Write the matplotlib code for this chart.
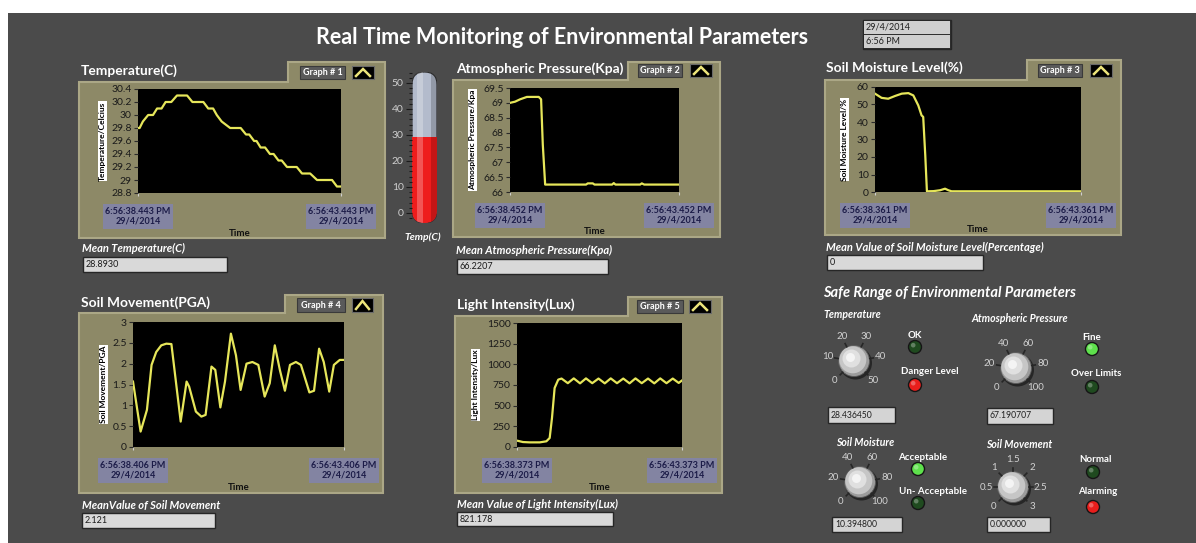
import numpy as np
import matplotlib
matplotlib.use('Agg')
import matplotlib.pyplot as plt
from matplotlib.patches import Rectangle, Circle, FancyBboxPatch, Polygon
from matplotlib.ticker import MultipleLocator, AutoMinorLocator, FuncFormatter

plt.rcParams['font.family'] = ['Lato', 'DejaVu Sans']

W, H = 1196, 543

# ---------------- values ----------------
main_title = 'Real Time Monitoring of Environmental Parameters'
clock_text = ['29/4/2014', '6:56 PM']

# time in seconds after the first sample of each graph
temp_t = [0, 0.04, 0.12, 0.25, 0.37, 0.47, 0.58, 0.68, 0.82, 0.96, 1.21, 1.34, 1.61,
          1.73, 1.85, 1.94, 2.06, 2.27, 2.53, 2.66, 2.74, 2.86, 2.92, 3.02, 3.13,
          3.25, 3.34, 3.46, 3.54, 3.67, 3.91, 4.04, 4.24, 4.41, 4.78, 4.90, 5.0]
temp_v = [29.8, 29.8, 29.9, 30.0, 30.0, 30.1, 30.1, 30.2, 30.2, 30.3, 30.3, 30.2, 30.2,
          30.1, 30.1, 30.0, 29.9, 29.8, 29.8, 29.7, 29.7, 29.6, 29.6, 29.5, 29.5,
          29.4, 29.4, 29.3, 29.3, 29.2, 29.2, 29.1, 29.1, 29.0, 29.0, 28.9, 28.9]

press_t = [0, 0.15, 0.3, 0.5, 0.85, 0.92, 0.97, 1.04, 2.25, 2.3, 2.45, 2.5, 3.02,
           3.07, 3.12, 3.85, 3.9, 3.97, 5.0]
press_v = [69.0, 69.04, 69.12, 69.2, 69.2, 69.12, 67.6, 66.25, 66.25, 66.29, 66.29,
           66.25, 66.25, 66.3, 66.25, 66.25, 66.29, 66.25, 66.25]

moist_t = [0, 0.16, 0.32, 0.49, 0.65, 0.81, 0.93, 1.05, 1.13, 1.17, 1.22, 1.26, 1.42,
           1.58, 1.7, 1.78, 1.86, 5.0]
moist_v = [56.2, 53.8, 53.3, 54.9, 56.2, 56.5, 55.2, 49.5, 43.8, 42.9, 21.0, 0.4, 0.5,
           1.0, 1.9, 1.0, 0.4, 0.4]

move_t = [0, 0.18, 0.33, 0.44, 0.55, 0.67, 0.79, 0.91, 1.13, 1.27, 1.33, 1.49, 1.62,
          1.72, 1.86, 1.95, 2.07, 2.18, 2.32, 2.44, 2.55, 2.69, 2.83, 2.97, 3.12,
          3.24, 3.36, 3.48, 3.60, 3.72, 3.86, 3.98, 4.18, 4.29, 4.41, 4.52, 4.65,
          4.76, 4.90, 5.0]
move_v = [1.57, 0.37, 0.89, 1.97, 2.28, 2.44, 2.48, 2.47, 0.61, 1.57, 1.45, 0.85, 0.73,
          0.77, 1.93, 1.85, 0.95, 1.57, 2.72, 2.2, 1.37, 2.0, 2.04, 1.97, 1.21,
          1.53, 2.44, 1.85, 1.35, 1.97, 2.04, 1.97, 1.31, 1.35, 2.36, 2.04, 1.33,
          1.97, 2.09, 2.09]

light_t = [0, 0.18, 0.38, 0.69, 0.89, 0.99, 1.06, 1.14, 1.25, 1.35, 1.54, 1.72, 1.91,
           2.09, 2.28, 2.47, 2.66, 2.84, 3.03, 3.22, 3.41, 3.59, 3.78, 3.97, 4.16,
           4.34, 4.53, 4.72, 4.90, 5.0]
light_v = [77, 60, 56, 56, 69, 109, 351, 714, 815, 828, 772, 830, 770,
           830, 772, 828, 770, 830, 772, 828, 770, 830, 772, 828, 770,
           830, 772, 828, 775, 805]

temp_x = ['6:56:38.443 PM\n29/4/2014', '6:56:43.443 PM\n29/4/2014']
press_x = ['6:56:38.452 PM\n29/4/2014', '6:56:43.452 PM\n29/4/2014']
moist_x = ['6:56:38.361 PM\n29/4/2014', '6:56:43.361 PM\n29/4/2014']
move_x = ['6:56:38.406 PM\n29/4/2014', '6:56:43.406 PM\n29/4/2014']
light_x = ['6:56:38.373 PM\n29/4/2014', '6:56:43.373 PM\n29/4/2014']

mean_values = ['28.8930', '66.2207', '0', '2.121', '821.178']
thermo_value = 29.2

knob_names = ['Temperature', 'Atmospheric Pressure', 'Soil Moisture', 'Soil Movement']
knob_scales = [[0, 10, 20, 30, 40, 50], [0, 20, 40, 60, 80, 100],
               [0, 20, 40, 60, 80, 100], [0, 0.5, 1, 1.5, 2, 2.5, 3]]
knob_readouts = [28.436450, 67.190707, 10.394800, 0.000000]
led_labels = [['OK', 'Danger Level'], ['Fine', 'Over Limits'],
              ['Acceptable', 'Un- Acceptable'], ['Normal', 'Alarming']]
led_states = [['off', 'red'], ['green', 'off'], ['green', 'off'], ['off', 'red']]

# ---------------- styling ----------------
BG = '#4b4b4b'
KHAKI = '#8d8967'
LINE = '#e6e65a'
LED = {'off': '#1f4a1f', 'green': '#5ee04c', 'red': '#e81e1c'}

fig = plt.figure(figsize=(W / 100, H / 100), dpi=100, facecolor='white')
bg = fig.add_axes([0, 0, 1, 1])
bg.set_xlim(0, W)
bg.set_ylim(H, 0)
bg.axis('off')
bg.add_patch(Rectangle((8, 13), W, H, fc=BG, ec='none'))


def pax(x0, y0, x1, y1):
    return fig.add_axes([x0 / W, 1 - y1 / H, (x1 - x0) / W, (y1 - y0) / H])


def box(x0, y0, x1, y1, fc, ec='#262626', lw=1.0):
    bg.add_patch(Rectangle((x0, y0), x1 - x0, y1 - y0, fc=fc, ec=ec, lw=lw))


# header
bg.text(562, 38, main_title, color='white', fontsize=15.5, fontweight='bold',
        ha='center', va='center')
box(863, 20, 951, 49, '#303030')
box(864, 21, 950, 34, '#cfcfcf', ec='none')
box(864, 35, 950, 48, '#cfcfcf', ec='none')
bg.text(866, 27.5, clock_text[0], fontsize=6.5, color='#202020', va='center')
bg.text(866, 41.5, clock_text[1], fontsize=6.5, color='#202020', va='center')

panels = [
    dict(frame=(79, 82, 385, 238), tab=(288, 62), title=(81, 71), gbox=(300, 66, 345, 79),
         btn=(352, 66, 374, 79), plot=(138, 89, 341, 193), ylx=106, time_y=233,
         mean=(82, 248), mbox=(83, 257, 227, 272)),
    dict(frame=(453, 80, 720, 237), tab=(628, 62), title=(456, 69), gbox=(638, 64, 682, 77),
         btn=(690, 64, 712, 77), plot=(510, 88, 679, 192), ylx=476, time_y=231,
         mean=(456, 250), mbox=(457, 259, 608, 274)),
    dict(frame=(825, 80, 1121, 235), tab=(1027, 60), title=(826, 68), gbox=(1038, 64, 1082, 77),
         btn=(1090, 64, 1112, 77), plot=(875, 87, 1081, 192), ylx=848, time_y=230,
         mean=(826, 247), mbox=(827, 255, 983, 270)),
    dict(frame=(79, 313, 383, 493), tab=(285, 295), title=(81, 303), gbox=(297, 298, 345, 312),
         btn=(352, 298, 373, 312), plot=(133, 322, 344, 447), ylx=107, time_y=487,
         mean=(82, 505), mbox=(82, 513, 215, 528)),
    dict(frame=(455, 316, 722, 493), tab=(628, 297), title=(457, 305), gbox=(637, 300, 683, 313),
         btn=(689, 300, 711, 313), plot=(517, 323, 682, 447), ylx=479, time_y=487,
         mean=(457, 504), mbox=(457, 512, 613, 526)),
]

graphs = [
    (temp_t, temp_v, (28.8, 30.4), 0.2, 'Temperature/Celcius', temp_x,
     'Temperature(C)', 'Graph # 1', 'Mean Temperature(C)'),
    (press_t, press_v, (66, 69.5), 0.5, 'Atmospheric Pressure/Kpa', press_x,
     'Atmospheric Pressure(Kpa)', 'Graph # 2', 'Mean Atmospheric Pressure(Kpa)'),
    (moist_t, moist_v, (0, 60), 10, 'Soil Moisture Level/%', moist_x,
     'Soil Moisture Level(%)', 'Graph # 3', 'Mean Value of Soil Moisture Level(Percentage)'),
    (move_t, move_v, (0, 3), 0.5, 'Soil Movement/PGA', move_x,
     'Soil Movement(PGA)', 'Graph # 4', 'MeanValue of Soil Movement'),
    (light_t, light_v, (0, 1500), 250, 'Light Intensity/Lux', light_x,
     'Light Intensity(Lux)', 'Graph # 5', 'Mean Value of Light Intensity(Lux)'),
]

for p, g, mv in zip(panels, graphs, mean_values):
    t, v, ylim, ystep, ylab, xlabs, title, tag, mlabel = g
    x0, y0, x1, y1 = p['frame']
    tx, ty = p['tab']
    pts = [(x0, y0), (tx, y0), (tx, ty), (x1, ty), (x1, y1), (x0, y1)]
    bg.add_patch(Polygon(pts, closed=True, fc=KHAKI, ec='#aba786', lw=1.5))
    bg.text(p['title'][0], p['title'][1], title, color='white', fontsize=9.9,
            fontweight='bold', va='center')
    gx0, gy0, gx1, gy1 = p['gbox']
    box(gx0, gy0, gx1, gy1, '#5a5a5a', ec='#3a3a3a', lw=0.8)
    bg.text((gx0 + gx1) / 2, (gy0 + gy1) / 2, tag, color='white', fontsize=6.5,
            fontweight='bold', ha='center', va='center')
    bx0, by0, bx1, by1 = p['btn']
    box(bx0, by0, bx1, by1, 'black', ec='#6a6a6a', lw=0.8)
    bg.plot([bx0 + 4, (bx0 + bx1) / 2, bx1 - 4], [by1 - 3, by0 + 3, by1 - 3],
            color='#ece47a', lw=1.8, solid_joinstyle='miter')

    px0, py0, px1, py1 = p['plot']
    ax = pax(px0, py0, px1, py1)
    ax.set_facecolor('black')
    ax.plot(t, v, color=LINE, lw=1.6)
    ax.set_xlim(0, 5)
    ax.set_ylim(*ylim)
    ax.yaxis.set_major_locator(MultipleLocator(ystep))
    ax.yaxis.set_major_formatter(FuncFormatter(lambda val, pos: f'{val:g}'))
    for s in ax.spines.values():
        s.set_visible(False)
    ax.tick_params(axis='y', labelsize=7.5, labelcolor='#1a1a1a', color='#2a2a2a',
                   length=3, width=0.8, pad=1.5)
    ax.set_xticks([0, 5])
    ax.set_xticklabels(xlabs, fontsize=6.5, color='#1c1c48', fontweight='bold',
                       linespacing=1.15)
    ax.tick_params(axis='x', color='#d0d0d0', length=2, width=0.8, pad=8)
    for lbl in ax.get_xticklabels():
        lbl.set_bbox(dict(fc='#8384a2', ec='none', pad=2.0))
    ax.set_ylabel(ylab, fontsize=6, fontweight='bold', color='black',
                  bbox=dict(fc='white', ec='none', pad=0.6))
    ax.yaxis.set_label_coords((p['ylx'] - px0) / (px1 - px0), 0.5)
    ax.set_xlabel('Time', fontsize=7, fontweight='bold', color='#111111')
    ax.xaxis.set_label_coords(0.5, -(p['time_y'] - py1) / (py1 - py0))
    ax.xaxis.label.set_va('center')

    bg.text(p['mean'][0], p['mean'][1], mlabel, color='white', fontsize=8,
            fontweight='bold', style='italic', va='center')
    mx0, my0, mx1, my1 = p['mbox']
    box(mx0, my0, mx1, my1, '#d9d9d9')
    bg.text(mx0 + 3, (my0 + my1) / 2, mv, fontsize=6.5, color='#1a1a1a', va='center')

# thermometer
ax_t = pax(412, 72, 437, 223)
ax_t.set_xlim(0, 1)
ax_t.set_ylim(-3.85, 54.2)
ax_t.patch.set_alpha(0)
for s in ax_t.spines.values():
    s.set_visible(False)
tube = FancyBboxPatch((0, 0), 1, 1, boxstyle='round,pad=0,rounding_size=0.5',
                      mutation_aspect=25 / 151, transform=ax_t.transAxes,
                      fc='#b3bbcc', ec='#2e2e2e', lw=0.8)
ax_t.add_patch(tube)
red = ax_t.bar([0.5], [thermo_value + 3.85], bottom=-3.85, width=1.0, color='#ee1c1c')
for b in red:
    b.set_clip_path(tube)
gloss = ax_t.bar([0.32], [58.05], bottom=-3.85, width=0.22, color='white', alpha=0.25)
shade = ax_t.bar([0.88], [58.05], bottom=-3.85, width=0.24, color='black', alpha=0.18)
for b in list(gloss) + list(shade):
    b.set_clip_path(tube)
ax_t.set_xticks([])
ax_t.yaxis.set_major_locator(MultipleLocator(10))
ax_t.yaxis.set_minor_locator(AutoMinorLocator(5))
ax_t.tick_params(axis='y', which='major', labelsize=7.5, labelcolor='#cfcfcf',
                 color='#1a1a1a', length=4, width=0.8, pad=2)
ax_t.tick_params(axis='y', which='minor', color='#1a1a1a', length=2, width=0.8)
ax_t.set_ylim(-3.85, 54.2)
bg.text(423, 237, 'Temp(C)', color='white', fontsize=7.5, fontweight='bold',
        style='italic', ha='center', va='center')

# safe range section
bg.text(823, 293, 'Safe Range of Environmental Parameters', color='white', fontsize=10.5,
        fontweight='bold', style='italic', va='center')

knob_layout = [
    dict(c=(854, 361), name=(823, 314, 'left'), rbox=(828, 407, 895, 423),
         leds=[(915, 347), (915, 385)], ltxt=[(915, 335), (930, 371)]),
    dict(c=(1016, 368), name=(1020, 318, 'center'), rbox=(987, 408, 1053, 424),
         leds=[(1092, 349), (1092, 387)], ltxt=[(1092, 337), (1096, 373)]),
    dict(c=(860, 482), name=(865, 443, 'center'), rbox=(832, 517, 902, 532),
         leds=[(918, 469), (918, 503)], ltxt=[(923, 457), (933, 491)]),
    dict(c=(1013, 487), name=(1019, 444, 'center'), rbox=(987, 517, 1050, 532),
         leds=[(1093, 472), (1093, 507)], ltxt=[(1095, 459), (1098, 492)]),
]

for k, name, scale, reading, labs, states in zip(knob_layout, knob_names, knob_scales,
                                                 knob_readouts, led_labels, led_states):
    cx, cy = k['c']
    bg.text(k['name'][0], k['name'][1], name, color='white', fontsize=7.6, fontweight='bold',
            style='italic', ha=k['name'][2], va='center')
    angs = np.radians(np.linspace(225, -45, len(scale)))
    for a, s in zip(angs, scale):
        bg.plot([cx + 16 * np.cos(a), cx + 19.5 * np.cos(a)],
                [cy - 16 * np.sin(a), cy - 19.5 * np.sin(a)], color='#262626', lw=1.2)
        bg.text(cx + 27 * np.cos(a), cy - 27 * np.sin(a), f'{s:g}', color='#d2d2d2',
                fontsize=7, ha='center', va='center')
    bg.add_patch(Circle((cx + 1.5, cy + 2), 16.5, fc='#262626', ec='none'))
    bg.add_patch(Circle((cx, cy), 15.5, fc='#9c9c9c', ec='#5a5a5a', lw=0.6))
    bg.add_patch(Circle((cx - 1.2, cy - 1.2), 13.5, fc='#c6c6c6', ec='none'))
    bg.add_patch(Circle((cx - 2.5, cy - 2.5), 9, fc='#e0e0e0', ec='none'))
    bg.add_patch(Circle((cx - 3.5, cy - 3.5), 4.5, fc='#f4f4f4', ec='none'))
    rx0, ry0, rx1, ry1 = k['rbox']
    box(rx0, ry0, rx1, ry1, '#d4d4d4')
    bg.text(rx0 + 3, (ry0 + ry1) / 2, f'{reading:.6f}', fontsize=6.2, color='#202020',
            va='center')
    for (lx, ly), (tx_, ty_), lab, st in zip(k['leds'], k['ltxt'], labs, states):
        bg.text(tx_, ty_, lab, color='white', fontsize=7, fontweight='bold',
                ha='center', va='center')
        bg.add_patch(Circle((lx, ly), 6.5, fc=LED[st], ec='#151515', lw=1.0))
        bg.add_patch(Circle((lx - 1.8, ly - 1.8), 2.3, fc='white', ec='none', alpha=0.3))

fig.savefig('out.png', dpi=100, facecolor='white')
